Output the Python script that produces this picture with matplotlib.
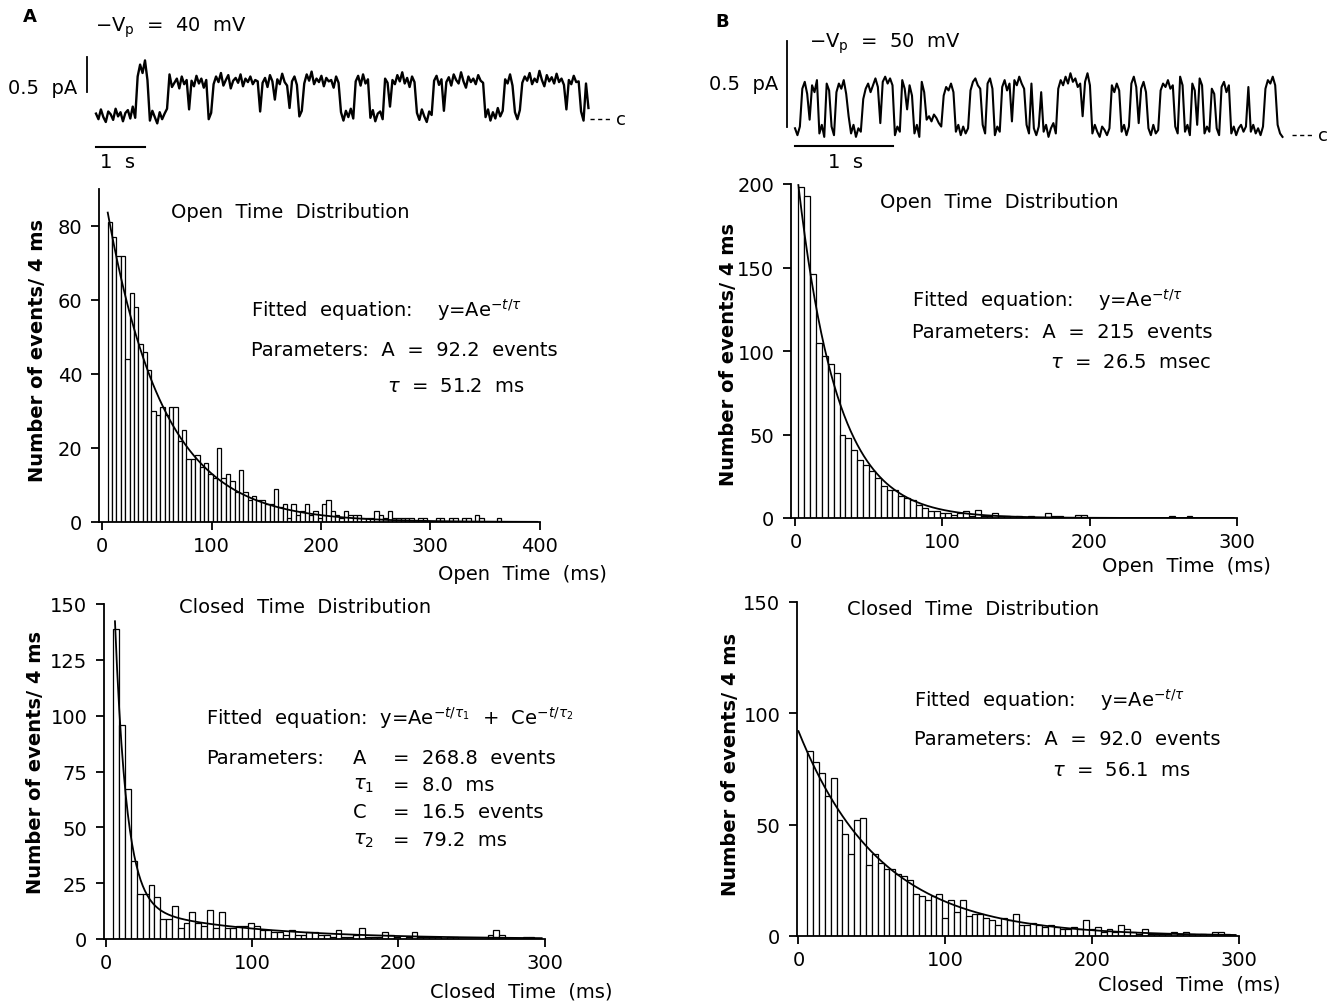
import numpy as np
import matplotlib
matplotlib.use("Agg")
import matplotlib.pyplot as plt

W, H = 1342, 1003
plt.rcParams['font.family'] = ['DejaVu Sans']
plt.rcParams['mathtext.fontset'] = 'dejavusans'

# ---------------- data ----------------
bin_width = 4.0  # ms

# Panel A, open times (bins start at 5 ms)
a_open_start = 5.0
a_open_counts = [81, 77, 72, 72, 44, 62, 58, 48, 46, 41,
                 30, 29, 31, 29, 31, 31, 22, 25, 17, 17,
                 18, 15, 16, 13, 12, 20, 12, 13, 11, 8,
                 14, 8, 6, 7, 6, 6, 5, 5, 9, 4,
                 5, 1, 5, 2, 3, 5, 2, 3, 1, 5,
                 6, 3, 2, 1, 3, 2, 2, 2, 1, 1,
                 1, 3, 2, 1, 3, 1, 1, 1, 1, 1,
                 0, 1, 1, 0, 0, 1, 1, 0, 1, 1,
                 0, 1, 1, 0, 2, 1, 0, 0, 0, 1,
                 0, 0, 0, 0, 0, 0, 0, 0]
a_open_A, a_open_tau = 92.2, 51.2

# Panel A, closed times (bins start at 5 ms)
a_closed_start = 5.0
a_closed_counts = [139, 96, 67, 35, 20, 20, 24, 19, 9, 9,
                   15, 5, 7, 12, 7, 6, 13, 5, 12, 5,
                   5, 6, 6, 7, 6, 4, 4, 3, 3, 2,
                   4, 2, 2, 3, 3, 2, 2, 1, 4, 1,
                   1, 2, 5, 1, 1, 1, 3, 2, 1, 0,
                   1, 3, 1, 1, 1, 1, 0, 1, 1, 0,
                   0, 0, 0, 0, 2, 4, 2, 0, 0, 0,
                   1, 1, 0]
a_closed_A, a_closed_tau1, a_closed_C, a_closed_tau2 = 268.8, 8.0, 16.5, 79.2

# Panel B, open times (bins start at 2 ms)
b_open_start = 2.0
b_open_counts = [198, 193, 146, 105, 97, 92, 87, 50, 48, 41,
                 35, 32, 28, 24, 19, 17, 17, 13, 12, 11,
                 8, 6, 4, 4, 3, 3, 2, 3, 4, 1,
                 5, 1, 1, 3, 1, 1, 0, 1, 0, 1,
                 0, 0, 3, 1, 1, 0, 0, 2, 2, 0,
                 0, 0, 0, 0, 0, 0, 0, 0, 0, 0,
                 0, 0, 0, 1, 0, 0, 1, 0, 0, 0,
                 0, 0, 0, 0]
b_open_A, b_open_tau = 215.0, 26.5

# Panel B, closed times (bins start at 6 ms)
b_closed_start = 6.0
b_closed_counts = [83, 78, 73, 63, 71, 52, 46, 37, 52, 53,
                   32, 37, 33, 30, 30, 28, 27, 25, 19, 18,
                   16, 18, 19, 8, 16, 11, 16, 9, 10, 10,
                   8, 7, 5, 8, 7, 10, 5, 5, 6, 5,
                   4, 5, 4, 3, 3, 4, 3, 7, 3, 4,
                   2, 3, 2, 5, 3, 2, 1, 3, 1, 1,
                   1, 1, 2, 1, 2, 1, 0, 1, 0, 2,
                   2, 1, 0]
b_closed_A, b_closed_tau = 92.0, 56.1

# Current traces (units: 0.01 pA), A sampled every 50 ms, B every 25 ms
trace_a_dt = 0.05
trace_a = [2, -6, 8, -3, -10, 5, 1, -7, 9, -2, 4, -9, 3, 7, -5, 12, -4,
           55, 72, 60, 78, 50,
           -8, 6, -3, -12, 4, -6, 2, 9,
           58, 40,
           46, 52, 38, 55, 44, 50,
           8,
           49, 41, 56, 45, 52, 39, 50,
           -6, 3,
           44, 55, 47, 60, 42, 50, 57, 38, 49, 53, 46, 58, 41, 52, 47, 55, 44, 50, 48,
           5,
           46, 53, 40, 57, 48, 22, 51, 44, 59, 47, 42,
           10,
           48, 55, 43,
           -2, 6,
           45, 58, 49, 62, 44, 52, 47, 56, 41, 53, 48,
           50, 39, 55, 46,
           4, -8, 6, -3, 9, -5,
           48, 56, 42, 58, 45, 51,
           -4, 7, -9, 2, 5, -6,
           52, 46,
           12,
           50, 44, 57, 48, 61, 45, 53, 40, 55, 47,
           3, -7, 8, -2, -10, 5, 0,
           49, 56, 43, 51,
           6,
           47, 54, 42, 58, 50, 45, 61, 48, 39, 55, 47, 52, 44, 57, 49, 46,
           -3, 8, -8, 4, -5, 10, -2, 6,
           51, 45, 58, 42,
           4, -6, 7,
           46, 55, 49, 60, 44, 52, 47, 63, 50, 41, 57, 48, 54, 45, 59, 47, 52, 43,
           8,
           50, 44, 56, 47,
           48, 5, -8, 45, 10]

trace_b_dt = 0.025
trace_b = [1, -3, 2, 24, 28, 21, 6, 26, 22, 29, -2, 3, -4, 27, 23, 2, -3,
           22, 27, 24, 29, 21, 8, -2, 3, -4, 1, -1,
           18, 24, 27, 22, 26, 30, 25, 4, 28, 31, 27, 30, 26, -3, 2, -1, 29,
           24, 12, 26, 20, -2, 3, -4, 28, 22, 6, 8, 5, 9, 7, 4, 2,
           20, 25, 23, 27, 22, -1, 3, -3, 2, -2, 1,
           23, 28, 30, 26, 24, 3, -2, 27, 30, 24, -3, 2, -1,
           25, 29, 23, 27, 5, 29, 26, 31, 27, 24, 3, -2, 27, 1, -3, 2, 22,
           -1, 3, -4, 1, 4, -2,
           24, 29, 26, 31, 27, 33, 28, 30, 25, 27, 8, 28, 33, 26,
           -2, 3, -1, -4, 2, 0, -3, 1,
           26, 22, 27, 23, -1, 3, -3, 2, 27, 31, 25, 4, 24, 28, 22,
           1, -3, 3, -2, 0, 23, 27, 25, 29, 24, 26, 2, -2, 31, 26,
           -1, 3, -3, 27, 23, 3, 30, 26, -2, 2, -1, 24, 21, 1, -3,
           25, 28, 22, 26, -2, 2, -3, 1, 3, -1, 2, 25,
           -1, 3, -2, 1, -3, 2, 24, 29, 27, 31, 26, 3, -2, -4]

# ---------------- figure ----------------
fig = plt.figure(figsize=(W / 100, H / 100), dpi=100)


def add_ax(x0, x1, ytop, ybot):
    return fig.add_axes([x0 / W, 1 - ybot / H, (x1 - x0) / W, (ybot - ytop) / H])


def ftext(px, py, s, **kw):
    kw.setdefault('fontsize', 14)
    kw.setdefault('va', 'center')
    fig.text(px / W, 1 - py / H, s, **kw)


def hist_panel(ax_px, xlim, ylim, xticks, yticks, start, counts, fit_fn, t0):
    ax = add_ax(*ax_px)
    edges = start + bin_width * np.arange(len(counts))
    ax.bar(edges, counts, width=bin_width, align='edge', facecolor='white',
           edgecolor='black', linewidth=0.9, zorder=2)
    t = np.linspace(t0, xticks[-1] - 2, 400)
    ax.plot(t, fit_fn(t), color='black', lw=1.3, zorder=3)
    ax.set_xlim(*xlim)
    ax.set_ylim(*ylim)
    for s in ['top', 'right']:
        ax.spines[s].set_visible(False)
    for s in ['left', 'bottom']:
        ax.spines[s].set_linewidth(1.3)
        ax.spines[s].set_zorder(4)
    ax.spines['bottom'].set_bounds(xlim[0], xticks[-1])
    ax.set_xticks(xticks)
    ax.set_yticks(yticks)
    ax.tick_params(axis='both', direction='out', length=6, width=1.3, labelsize=14)
    ax.tick_params(axis='y', pad=6)
    ax.tick_params(axis='x', pad=4)
    ax.patch.set_alpha(0)
    return ax


ylab = 'Number of events/ 4 ms'

# A open
hist_panel((99, 545, 190, 523), (-3, 405), (0, 90), [0, 100, 200, 300, 400], [0, 20, 40, 60, 80],
           a_open_start, a_open_counts,
           lambda t: a_open_A * np.exp(-t / a_open_tau), 5.0)
ftext(38, 351, ylab, rotation=90, ha='center', fontweight='bold')
ftext(171, 212, 'Open  Time  Distribution')
ftext(251, 310, r'Fitted  equation:    y=Ae$^{-t/\tau}$')
ftext(251, 350, 'Parameters:  A  =  92.2  events')
ftext(387, 387, r'$\tau$  =  51.2  ms')
ftext(438, 575, 'Open  Time  (ms)')

# A closed
hist_panel((104, 549, 605, 940), (-1.5, 303), (0, 150), [0, 100, 200, 300], [0, 25, 50, 75, 100, 125, 150],
           a_closed_start, a_closed_counts,
           lambda t: a_closed_A * np.exp(-t / a_closed_tau1) + a_closed_C * np.exp(-t / a_closed_tau2), 6.0)
ftext(36, 763, ylab, rotation=90, ha='center', fontweight='bold')
ftext(179, 608, 'Closed  Time  Distribution')
ftext(206, 718, r'Fitted  equation:  y=Ae$^{-t/\tau_1}$  +  Ce$^{-t/\tau_2}$')
ftext(206, 758, 'Parameters:')
ftext(353, 758, 'A')
ftext(353, 786, r'$\tau_1$')
ftext(353, 813, 'C')
ftext(353, 841, r'$\tau_2$')
ftext(393, 758, '=  268.8  events')
ftext(393, 786, '=  8.0  ms')
ftext(393, 813, '=  16.5  events')
ftext(393, 841, '=  79.2  ms')
ftext(430, 992, 'Closed  Time  (ms)')

# B open
hist_panel((791, 1241, 185, 519), (-3, 303), (0, 200), [0, 100, 200, 300], [0, 50, 100, 150, 200],
           b_open_start, b_open_counts,
           lambda t: b_open_A * np.exp(-t / b_open_tau), 2.0)
ftext(728, 354, ylab, rotation=90, ha='center', fontweight='bold')
ftext(880, 202, 'Open  Time  Distribution')
ftext(912, 300, r'Fitted  equation:    y=Ae$^{-t/\tau}$')
ftext(912, 333, 'Parameters:  A  =  215  events')
ftext(1050, 363, r'$\tau$  =  26.5  msec')
ftext(1102, 567, 'Open  Time  (ms)')

# B closed
hist_panel((797, 1243, 603, 937), (-1, 303), (0, 150), [0, 100, 200, 300], [0, 50, 100, 150],
           b_closed_start, b_closed_counts,
           lambda t: b_closed_A * np.exp(-t / b_closed_tau), 0.0)
ftext(730, 765, ylab, rotation=90, ha='center', fontweight='bold')
ftext(847, 610, 'Closed  Time  Distribution')
ftext(914, 700, r'Fitted  equation:    y=Ae$^{-t/\tau}$')
ftext(914, 740, 'Parameters:  A  =  92.0  events')
ftext(1052, 770, r'$\tau$  =  56.1  ms')
ftext(1098, 985, 'Closed  Time  (ms)')


# ---------------- traces ----------------
def trace_panel(ax_px, x0_px, px_per_s, base_px, px_per_pA, dt, vals, bar_x_px, bar_top_px, bar_bot_px,
                tbar_px, c_y_px, c_x_px, lw):
    ax = add_ax(*ax_px)
    xa, xb, ya, yb = ax_px
    ax.set_xlim((xa - x0_px) / px_per_s, (xb - x0_px) / px_per_s)
    ax.set_ylim(-(yb - base_px) / px_per_pA, (base_px - ya) / px_per_pA)
    ax.axis('off')
    t = dt * np.arange(len(vals))
    y = np.array(vals) / 100.0
    ax.plot(t, y, color='black', lw=lw)
    bx = (bar_x_px - x0_px) / px_per_s
    ax.plot([bx, bx], [(base_px - bar_bot_px) / px_per_pA, (base_px - bar_top_px) / px_per_pA],
            color='black', lw=1.3)
    ty = (base_px - tbar_px) / px_per_pA
    ax.plot([0, 1.0], [ty, ty], color='black', lw=1.5)
    cy = (base_px - c_y_px) / px_per_pA
    ax.plot([(c_x_px - x0_px) / px_per_s, (c_x_px + 22 - x0_px) / px_per_s], [cy, cy],
            color='black', lw=1.0, ls=(0, (3, 2.5)))
    ax.text((c_x_px + 26 - x0_px) / px_per_s, cy, 'c', fontsize=13, va='center', ha='left')
    return ax


trace_panel((0, 640, 0, 180), 96, 49.0, 116, 70.0, trace_a_dt, trace_a, 87, 58, 93, 148, 120, 590, 1.7)
trace_panel((690, 1342, 0, 180), 795, 97.5, 131, 172.0, trace_b_dt, trace_b, 787, 42, 128, 147, 136, 1292, 1.5)

ftext(30, 17, 'A', fontweight='bold', fontsize=13, ha='center')
ftext(95, 28, r'$-$V$_\mathrm{p}$  =  40  mV')
ftext(77, 89, '0.5  pA', ha='right')
ftext(118, 162, '1  s', ha='center')

ftext(722, 22, 'B', fontweight='bold', fontsize=13, ha='center')
ftext(809, 44, r'$-$V$_\mathrm{p}$  =  50  mV')
ftext(778, 84, '0.5  pA', ha='right')
ftext(846, 162, '1  s', ha='center')

fig.savefig('out.png', dpi=100)
